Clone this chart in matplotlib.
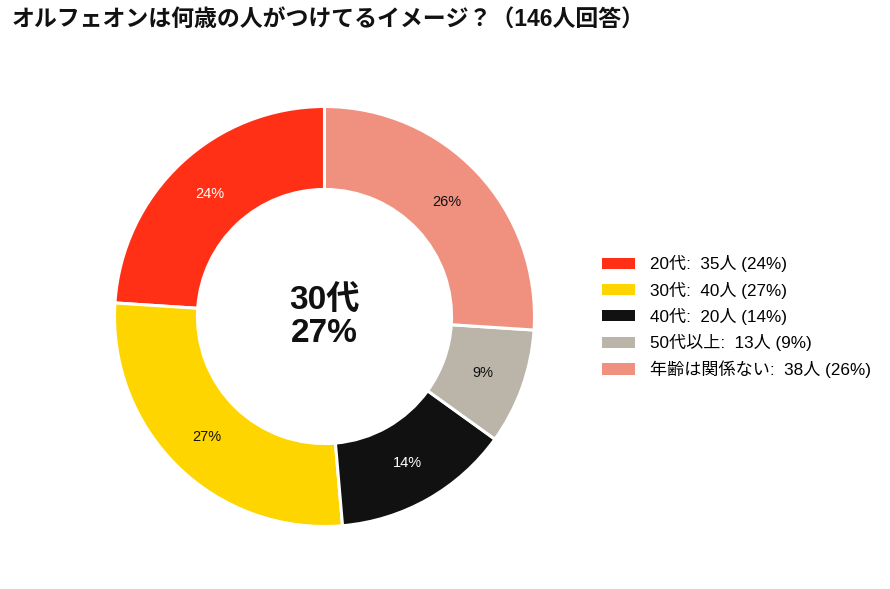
import matplotlib
matplotlib.use("Agg")
import matplotlib.pyplot as plt
from matplotlib.patches import Patch
import numpy as np

plt.rcParams['font.family'] = ['Liberation Sans', 'Noto Sans CJK JP', 'DejaVu Sans']

title = "オルフェオンは何歳の人がつけてるイメージ？（146人回答）"
categories = ["20代", "30代", "40代", "50代以上", "年齢は関係ない"]
counts = [35, 40, 20, 13, 38]
percents = [24, 27, 14, 9, 26]
colors = ["#FF3015", "#FFD500", "#111111", "#BAB5A8", "#F0907F"]
label_colors = ["white", "#111111", "white", "#111111", "#111111"]
center_text = "30代\n27%"

W, H = 890, 589
fig = plt.figure(figsize=(W / 100, H / 100), dpi=100)

cx, cy, R = 324.5, 316.5, 210
ax = fig.add_axes([(cx - R) / W, (H - cy - R) / H, 2 * R / W, 2 * R / H])
wedges, _ = ax.pie(counts, colors=colors, startangle=90, counterclock=True,
                   radius=1.0, wedgeprops=dict(width=0.395, edgecolor="white", linewidth=2.2))
ax.set_xlim(-1, 1)
ax.set_ylim(-1, 1)
ax.set_aspect("equal")
ax.axis("off")

total = sum(counts)
ang = 90.0
for c, p, lc in zip(counts, percents, label_colors):
    span = 360.0 * c / total
    mid = np.deg2rad(ang + span / 2)
    ax.text(0.80 * np.cos(mid), 0.80 * np.sin(mid), f"{p}%", ha="center", va="center",
            fontsize=10.5, color=lc)
    ang += span

ax.text(0, 0, center_text, ha="center", va="center", fontsize=24, fontweight="bold",
        color="#111111", linespacing=1.08)

fig.text(12 / W, 1 - 20 / H, title, ha="left", va="center", fontsize=16.5, fontweight="bold",
         color="#111111")

handles = [Patch(facecolor=col, edgecolor="none") for col in colors]
labels = [f"{cat}:  {n}人 ({p}%)" for cat, n, p in zip(categories, counts, percents)]
fig.legend(handles, labels, loc="upper left", bbox_to_anchor=(597 / W, 1 - 250 / H),
           frameon=False, fontsize=12.3, handlelength=1.9, handleheight=0.63,
           handletextpad=0.9, labelspacing=0.54, borderaxespad=0, borderpad=0.3)

fig.savefig("out.png", dpi=100)
